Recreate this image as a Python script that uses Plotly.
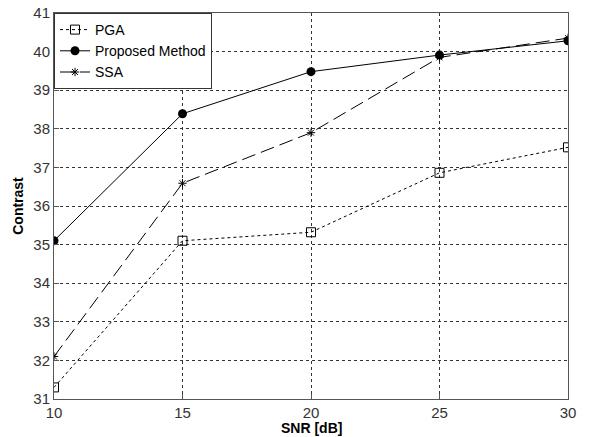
import plotly.graph_objects as go

snr = [10, 15, 20, 25, 30]
pga = [31.3, 35.1, 35.32, 36.86, 37.52]
proposed = [35.1, 38.39, 39.48, 39.91, 40.28]
ssa = [32.1, 36.59, 37.9, 39.85, 40.35]

x_ticks = [10, 15, 20, 25, 30]
y_ticks = list(range(31, 42))

font = "Liberation Sans, Arial, sans-serif"

fig = go.Figure()
fig.add_trace(go.Scatter(
    x=snr, y=pga, name="PGA", mode="lines+markers",
    line=dict(color="black", width=1, dash="3px,3px"),
    marker=dict(symbol="square-open", size=9, color="black", line=dict(width=1, color="black")),
))
fig.add_trace(go.Scatter(
    x=snr, y=proposed, name="Proposed Method", mode="lines+markers",
    line=dict(color="black", width=1),
    marker=dict(symbol="circle", size=9, color="black"),
))
fig.add_trace(go.Scatter(
    x=snr, y=ssa, name="SSA", mode="lines+markers",
    line=dict(color="black", width=1, dash="14px,6px"),
    marker=dict(symbol="asterisk-open", size=7, color="black", line=dict(width=1, color="black")),
))

axis_common = dict(
    showline=True, linecolor="#555", linewidth=1, mirror=True,
    showgrid=True, gridcolor="#333", griddash="dot", gridwidth=1,
    ticks="inside", ticklen=5, tickcolor="#555",
    tickfont=dict(family=font, size=15, color="#333"),
    zeroline=False, automargin=False,
)

fig.update_layout(
    width=589, height=437,
    margin=dict(l=54, r=21, t=13, b=38),
    paper_bgcolor="white", plot_bgcolor="white",
    font=dict(family=font, size=14, color="black"),
    showlegend=True,
    legend=dict(
        x=0, y=1, xanchor="left", yanchor="top",
        bordercolor="#333", borderwidth=1, bgcolor="white",
        font=dict(family=font, size=14, color="black"),
        tracegroupgap=0, itemwidth=30,
    ),
    xaxis=dict(
        range=[10, 30], tickvals=x_ticks, ticklabelstandoff=0,
        **axis_common,
    ),
    yaxis=dict(
        range=[31, 41], tickvals=y_ticks,
        title=dict(text="<b>Contrast</b>", font=dict(family=font, size=14, color="black"), standoff=6),
        **axis_common,
    ),
    annotations=[dict(
        text="<b>SNR [dB]</b>", xref="paper", yref="paper", x=0.5, y=-0.076,
        xanchor="center", yanchor="middle", showarrow=False,
        font=dict(family=font, size=14, color="black"),
    )],
)

fig.write_html("out.html")
